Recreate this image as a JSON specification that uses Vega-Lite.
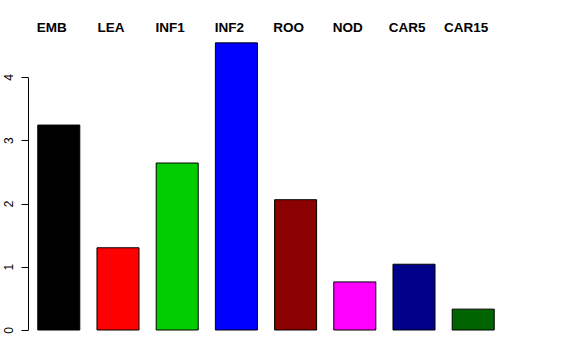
{
  "$schema": "https://vega.github.io/schema/vega-lite/v6.json",
  "autosize": "none",
  "width": 476,
  "height": 253,
  "padding": {"left": 28, "top": 77, "right": 72, "bottom": 30},
  "background": "white",
  "config": {"view": {"stroke": null}, "font": "Liberation Sans"},
  "data": {"values": [
    {"tissue": "EMB", "value": 3.24, "color": "#000000"},
    {"tissue": "LEA", "value": 1.30, "color": "#FF0000"},
    {"tissue": "INF1", "value": 2.64, "color": "#00CD00"},
    {"tissue": "INF2", "value": 4.54, "color": "#0000FF"},
    {"tissue": "ROO", "value": 2.06, "color": "#8B0000"},
    {"tissue": "NOD", "value": 0.76, "color": "#FF00FF"},
    {"tissue": "CAR5", "value": 1.04, "color": "#00008B"},
    {"tissue": "CAR15", "value": 0.33, "color": "#006400"}
  ]},
  "mark": {"type": "bar", "stroke": "black", "strokeWidth": 1, "clip": false},
  "encoding": {
    "x": {
      "field": "tissue", "type": "nominal", "sort": null,
      "scale": {"paddingInner": 0.29, "paddingOuter": 0.165},
      "axis": {
        "orient": "top", "title": null, "domain": false, "ticks": false,
        "labelAngle": 0, "labelFontWeight": "bold", "labelFontSize": 13.5,
        "labelColor": "black", "offset": 40, "labelPadding": 3, "labelOffset": -7
      }
    },
    "y": {
      "field": "value", "type": "quantitative",
      "scale": {"domain": [0, 4], "nice": false, "zero": true},
      "axis": {
        "title": null, "values": [0, 1, 2, 3, 4], "grid": false,
        "domainColor": "black", "tickColor": "black", "tickSize": 7,
        "labelAngle": -90, "labelFontSize": 12, "labelColor": "black",
        "labelPadding": 6
      }
    },
    "color": {"field": "color", "type": "nominal", "scale": null, "legend": null}
  }
}
